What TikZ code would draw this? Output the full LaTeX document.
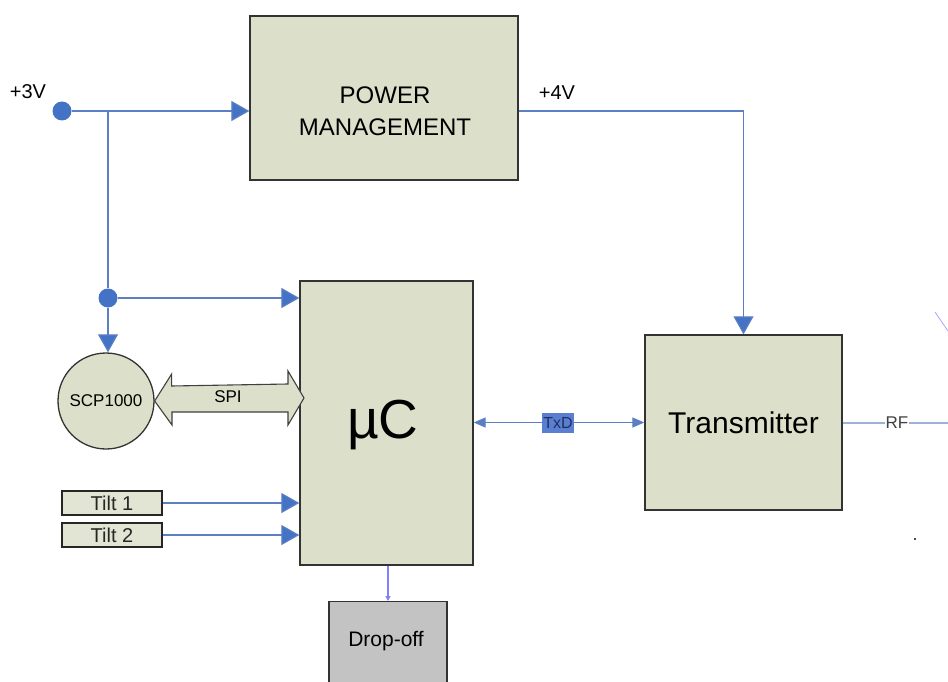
\documentclass[tikz,border=0pt]{standalone}
\usepackage{fontspec}
\setmainfont{Liberation Sans}
\usetikzlibrary{arrows.meta}
\definecolor{boxfill}{HTML}{DCDFC9}
\definecolor{dotblue}{HTML}{4472C4}
\definecolor{lineblue}{HTML}{5B7FC2}
\definecolor{txdfill}{HTML}{5A7FD0}
\definecolor{txdtext}{HTML}{1F3060}
\definecolor{rfline}{HTML}{9DB2D4}
\definecolor{dropline}{HTML}{7F7FFF}
\definecolor{dropfill}{HTML}{C3C3C3}
\tikzset{
  blk/.style={draw=black!80, line width=1.3pt, fill=boxfill, inner sep=0pt},
  tiltbox/.style={draw=black!85, line width=1.5pt, fill=boxfill!80!white, minimum width=100pt, minimum height=24pt, inner sep=0pt, font=\fontsize{20}{22}\selectfont, text=black!85},
  dotnode/.style={circle, fill=dotblue, minimum size=19pt, inner sep=0pt},
  wire/.style={draw=lineblue, line width=1.2pt},
  arr/.style={wire, -{Triangle[length=18pt,width=20pt,fill=dotblue]}},
  lbl/.style={font=\fontsize{20}{24}\selectfont, inner sep=0pt}
}
\begin{document}
\begin{tikzpicture}[x=1pt,y=-1pt]
\useasboundingbox (0,0) rectangle (948,682);
% boxes
\node[blk, minimum width=268pt, minimum height=164pt] (pm) at (384,98) {};
\node[font=\fontsize{24}{32}\selectfont, align=center, inner sep=0pt] (pmtext) at (385,111) {POWER\\MANAGEMENT};
\node[blk, minimum width=173pt, minimum height=284pt] (uc) at (386.5,423) {};
\node[font=\fontsize{55}{60}\selectfont, inner sep=0pt] (uctext) at (383,425) {µC};
\node[blk, minimum width=197pt, minimum height=175pt, font=\fontsize{30}{34}\selectfont] (tx) at (743.5,422.5) {Transmitter};
\node[draw=black!80, line width=1.3pt, fill=dropfill, minimum width=118pt, minimum height=90pt, anchor=north, inner sep=0pt] (drop) at (388,601) {};
\node[font=\fontsize{21}{24}\selectfont, inner sep=0pt] (droptext) at (386,641) {Drop-off};
\node[circle, draw=black!80, line width=1.3pt, fill=boxfill, minimum size=96pt, inner sep=0pt, font=\fontsize{17}{20}\selectfont] (scp) at (106,401) {SCP1000};
\node[tiltbox] (t1) at (112,503) {Tilt 1};
\node[tiltbox] (t2) at (112,535) {Tilt 2};
% supply
\node[dotnode] (d1) at (62,111) {};
\node[lbl] (v3) at (28,92) {+3V};
\node[dotnode] (d2) at (108,298) {};
\coordinate (j1) at (108,111);
\draw[arr] (d1) -- (pm.west |- d1);
\draw[wire] (j1) -- (d2);
\draw[arr] (d2) -- (uc.west |- d2);
\draw[arr] (d2) -- (scp.north -| d2);
% +4V
\node[lbl] (v4) at (557,93) {+4V};
\draw[arr] (pm.east |- d1) -| (tx.north);
% SPI
\draw[draw=black!75, line width=1.1pt, fill=boxfill] (scp.east) -- ++(17,-27) -- ++(0,12) -- (288,384) -- (288,371) -- (304,398) -- (288,425) -- (288,412) -- ++(-116,0) -- ++(0,13) -- cycle;
\node[font=\fontsize{17}{20}\selectfont, inner sep=0pt] (spi) at (228,397) {SPI};
% Tilt
\draw[arr] (t1.east) -- (uc.west |- t1.east);
\draw[arr] (t2.east) -- (uc.west |- t2.east);
% TxD
\draw[wire, {Triangle[length=12pt,width=10pt,fill=lineblue]}-{Triangle[length=12pt,width=10pt,fill=lineblue]}] (uc.east |- tx.west) -- (tx.west);
\node[fill=txdfill, text=txdtext, font=\fontsize{16}{18}\selectfont, inner xsep=1pt, minimum height=20pt] (txd) at (558,423) {TxD};
% RF
\coordinate (rfend) at (948,423);
\draw[draw=rfline, line width=1.5pt] (tx.east |- rfend) -- (rfend);
\node[fill=white, font=\fontsize{17}{18}\selectfont, inner xsep=1pt, inner ysep=0pt, text=black!75] (rf) at (897,423) {RF};
% antenna fragment
\coordinate (a1) at (935,312);
\coordinate (a2) at (948,331);
\draw[draw=dropline!70, line width=0.8pt] (a1) -- (a2);
\node[fill=black!70, inner sep=0pt, minimum size=2pt] (speck) at (915,539) {};
% drop-off link
\draw[draw=dropline, line width=2pt, -{Triangle[length=5pt,width=5pt]}] (uc.south -| drop.north) -- (drop.north);
\end{tikzpicture}
\end{document}
